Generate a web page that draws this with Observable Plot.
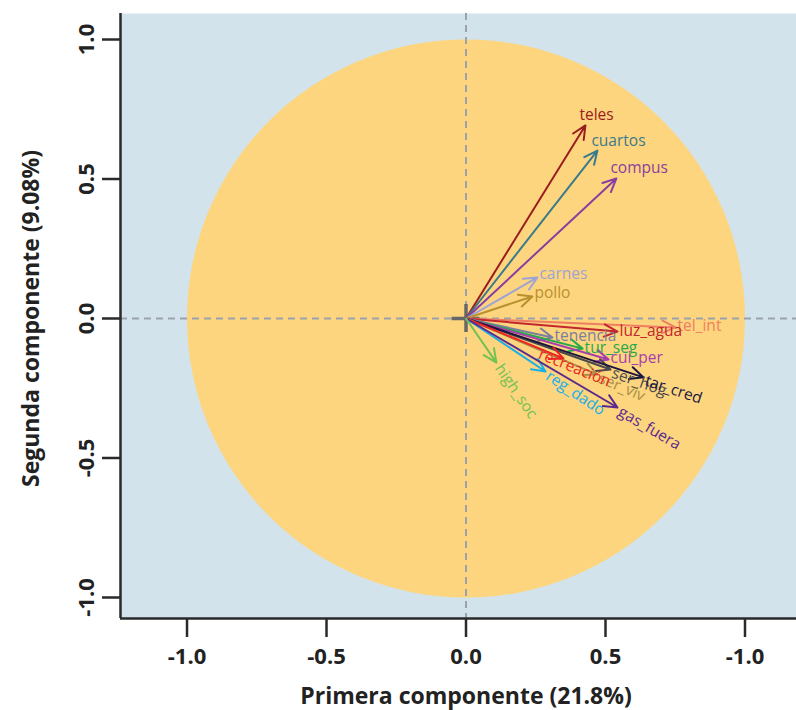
<!DOCTYPE html>
<html>
<head>
<meta charset="utf-8">
<script src="https://cdn.jsdelivr.net/npm/d3@7"></script>
<script src="https://cdn.jsdelivr.net/npm/@observablehq/plot@0.6"></script>
<style>
  html, body { margin: 0; padding: 0; background: #ffffff; }
  #chart svg { display: block; }
</style>
</head>
<body>
<div id="chart"></div>
<script>
// ---- data ----
const variables = ["teles","cuartos","compus","carnes","pollo","tel_int","luz_agua","tenencia","tur_seg","cui_per","ser_hog","tar_cred","ser_viv","recreación","reg_dado","gas_fuera","high_soc"];
const pc1 = [0.428,0.471,0.539,0.256,0.238,0.751,0.543,0.310,0.418,0.511,0.518,0.636,0.471,0.349,0.285,0.543,0.109];
const pc2 = [0.692,0.602,0.502,0.147,0.079,-0.032,-0.047,-0.068,-0.108,-0.147,-0.183,-0.211,-0.201,-0.143,-0.190,-0.319,-0.158];
const arrowColors = ["#9b1c20","#3b7a8c","#8a3ea0","#9ea3d3","#b8902e","#ee7f63","#c2262e","#7b7f9e","#29a94b","#a83eae","#4a4a4a","#1c1540","#a89048","#ee2424","#1aaee8","#5b2a8c","#72c152"];
const xTicks = [-1, -0.5, 0, 0.5, 1];
const xTickLabels = ["-1.0", "-0.5", "0.0", "0.5", "-1.0"];
const yTicks = [-1, -0.5, 0, 0.5, 1];
const yTickLabels = ["-1.0", "-0.5", "0.0", "0.5", "1.0"];
const xTitle = "Primera componente (21.8%)";
const yTitle = "Segunda componente (9.08%)";

// ---- layout ----
const W = 796, H = 710;
const mL = 120, mR = 0, mT = 13, mB = 92;
const xDomain = [-1.2384, 1.1846];
const yDomain = [-1.0753, 1.0932];
const pxPerUnit = (W - mL - mR) / (xDomain[1] - xDomain[0]);
const crossHalf = 14 / pxPerUnit;
const font = "'Open Sans', 'Noto Sans', sans-serif";
const labelSize = 15.5;
const pulledBack = ["recreación"]; // label drawn further back along its arrow

const rows = variables.map((name, i) => {
  const ang = Math.atan2(-pc2[i], pc1[i]) * 180 / Math.PI;
  return {name, x: pc1[i], y: pc2[i], x0: 0, y0: 0, color: arrowColors[i], angle: ang};
});
const rotated = rows.filter(d => d.angle > 17 && !pulledBack.includes(d.name));
const rotatedBack = rows.filter(d => pulledBack.includes(d.name));
const upper = rows.filter(d => d.y > 0.3);
const flatUp = rows.filter(d => d.y > 0 && d.y <= 0.3);
const flatDown = rows.filter(d => d.angle <= 17 && d.y <= 0);

const xLab = new Map(xTicks.map((t, i) => [t, xTickLabels[i]]));
const yLab = new Map(yTicks.map((t, i) => [t, yTickLabels[i]]));
const origin = [{x: 0, y: 0}];

const chart = Plot.plot({
  width: W, height: H,
  marginLeft: mL, marginRight: mR, marginTop: mT, marginBottom: mB,
  style: {fontFamily: font, background: "#ffffff"},
  x: {domain: xDomain},
  y: {domain: yDomain},
  color: {type: "identity"},
  marks: [
    Plot.frame({fill: "#d3e3ec", stroke: "none"}),
    Plot.dot(origin, {x: "x", y: "y", r: pxPerUnit, fill: "#fdd57e"}),
    Plot.ruleX([0], {stroke: "#9aa2ad", strokeWidth: 2, strokeDasharray: "7,5"}),
    Plot.ruleY([0], {stroke: "#9aa2ad", strokeWidth: 2, strokeDasharray: "7,5"}),
    Plot.ruleX([0], {y1: -crossHalf, y2: crossHalf, stroke: "#676767", strokeWidth: 3.5}),
    Plot.ruleY([0], {x1: -crossHalf, x2: crossHalf, stroke: "#676767", strokeWidth: 3.5}),
    Plot.arrow(rows, {x1: "x0", y1: "y0", x2: "x", y2: "y", stroke: "color", strokeWidth: 2, headLength: 11, headAngle: 50}),
    Plot.text(upper, {x: "x", y: "y", text: "name", fill: "color", textAnchor: "start", dx: -6, dy: -10, fontSize: labelSize}),
    Plot.text(flatUp, {x: "x", y: "y", text: "name", fill: "color", textAnchor: "start", dx: 2, dy: -3, fontSize: labelSize}),
    Plot.text(flatDown, {x: "x", y: "y", text: "name", fill: "color", textAnchor: "start", dx: 2, dy: -1, fontSize: labelSize}),
    Plot.text(rotated, {x: "x", y: "y", text: "name", fill: "color", rotate: "angle", textAnchor: "start", lineAnchor: "middle", dx: 2, dy: 3, fontSize: labelSize}),
    Plot.text(rotatedBack, {x: "x", y: "y", text: "name", fill: "color", rotate: "angle", textAnchor: "start", lineAnchor: "middle", dx: -24, dy: -5, fontSize: labelSize}),
    Plot.ruleX([xDomain[0]], {stroke: "#2a2a2a", strokeWidth: 2.5}),
    Plot.ruleY([yDomain[0]], {stroke: "#2a2a2a", strokeWidth: 2.5}),
    Plot.axisX(xTicks, {tickSize: 19, tickPadding: 11, tickFormat: d => xLab.get(d), label: null, stroke: "#2a2a2a", strokeWidth: 2.5, fill: "#222", fontSize: 22, fontWeight: "bold"}),
    Plot.axisY(yTicks, {tickSize: 18, tickFormat: () => "", label: null, stroke: "#2a2a2a", strokeWidth: 2.5}),
    Plot.text(yTicks, {y: d => d, frameAnchor: "left", dx: -34, rotate: -90, text: d => yLab.get(d), textAnchor: "middle", lineAnchor: "middle", fill: "#222", fontSize: 22, fontWeight: "bold"}),
    Plot.text([xTitle], {x: () => 0, frameAnchor: "bottom", dy: 78, text: d => d, textAnchor: "middle", lineAnchor: "middle", fill: "#222", fontSize: 23, fontWeight: "bold"}),
    Plot.text([yTitle], {y: () => 0, frameAnchor: "left", dx: -89, rotate: -90, text: d => d, textAnchor: "middle", lineAnchor: "middle", fill: "#222", fontSize: 23, fontWeight: "bold"})
  ]
});
document.getElementById("chart").append(chart);
</script>
</body>
</html>
